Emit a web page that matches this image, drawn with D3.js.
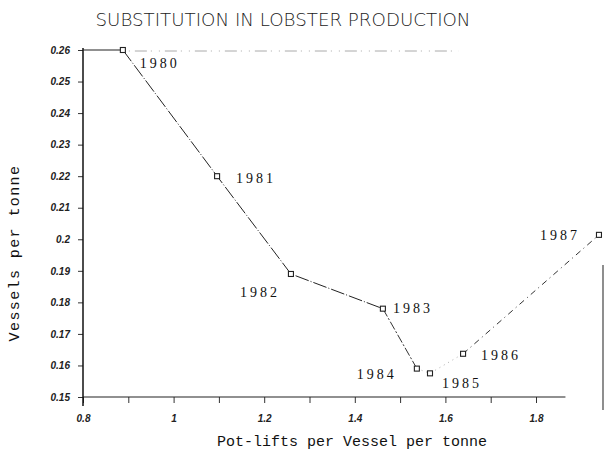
<!DOCTYPE html>
<html><head><meta charset="utf-8">
<script src="https://cdn.jsdelivr.net/npm/d3@7"></script>
<style>body{margin:0;background:#fff}svg{display:block}</style>
</head><body>
<script>
const years = ["1980","1981","1982","1983","1984","1985","1986","1987"];
const potLifts = [0.888, 1.096, 1.259, 1.462, 1.537, 1.566, 1.639, 1.939];
const vessels = [0.260, 0.220, 0.189, 0.178, 0.159, 0.1575, 0.1637, 0.2014];
const xTicks = [0.8,0.9,1.0,1.1,1.2,1.3,1.4,1.5,1.6,1.7,1.8];
const xTickLabels = ["0.8","","1","","1.2","","1.4","","1.6","","1.8"];
const yTicks = [0.15,0.16,0.17,0.18,0.19,0.2,0.21,0.22,0.23,0.24,0.25,0.26];
const yTickLabels = ["0.15","0.16","0.17","0.18","0.19","0.2","0.21","0.22","0.23","0.24","0.25","0.26"];
// label offsets [dx, dy, anchor]
const labelPos = [[17,18,"start"],[19,7,"start"],[-11,23,"end"],[10,4,"start"],[-20,10,"end"],[12,15,"start"],[18,6,"start"],[-19,5,"end"]];

const W=605,H=466;
const svg=d3.select("body").append("svg").attr("width",W).attr("height",H);
const x=d3.scaleLinear().domain([0.8,1.8]).range([83,536]);
const y=d3.scaleLinear().domain([0.15,0.26]).range([397,50]);

svg.append("text").attr("x",283).attr("y",26).attr("text-anchor","middle")
  .attr("font-family","DejaVu Sans").attr("font-size",18).attr("font-weight",200)
  .attr("fill","#222").attr("textLength",375).attr("lengthAdjust","spacingAndGlyphs")
  .text("SUBSTITUTION IN LOBSTER PRODUCTION");

// x axis
const xa=svg.append("g").attr("transform",`translate(0,${y(0.15)})`)
  .call(d3.axisBottom(x).tickValues(xTicks).tickSize(6).tickSizeOuter(0)
    .tickFormat((d,i)=>xTickLabels[i]));
xa.select(".domain").remove();
xa.append("line").attr("x1",x(0.8)).attr("x2",x(1.865)).attr("stroke","#222").attr("stroke-width",1.2);
xa.selectAll(".tick line").attr("stroke","#333");
xa.selectAll(".tick text").attr("y",18).attr("font-family","Liberation Sans").attr("font-style","italic")
  .attr("font-weight","bold").attr("font-size",10).attr("fill","#222");

// y axis
const ya=svg.append("g").attr("transform",`translate(${x(0.8)},0)`)
  .call(d3.axisLeft(y).tickValues(yTicks).tickSize(5).tickSizeOuter(0)
    .tickFormat((d,i)=>yTickLabels[i]));
ya.select(".domain").remove();
ya.append("line").attr("y1",y(0.26)-2).attr("y2",y(0.15)+9).attr("stroke","#111").attr("stroke-width",1.5);
ya.selectAll(".tick line").attr("stroke","#333");
ya.selectAll(".tick text").attr("x",-13).attr("font-family","Liberation Sans").attr("font-style","italic")
  .attr("font-weight","bold").attr("font-size",10).attr("fill","#222");

// top line at 0.26
svg.append("line").attr("x1",x(0.8)).attr("x2",x(potLifts[0])).attr("y1",y(0.26)).attr("y2",y(0.26))
  .attr("stroke","#222").attr("stroke-width",1.2);
svg.append("line").attr("x1",x(potLifts[0])+6).attr("x2",x(1.63)).attr("y1",y(0.26)+1).attr("y2",y(0.26)+1)
  .attr("stroke","#aaa").attr("stroke-width",1).attr("stroke-dasharray","1,5,12,4,1,7");
// right border fragment
svg.append("line").attr("x1",603).attr("x2",603).attr("y1",265).attr("y2",410)
  .attr("stroke","#444").attr("stroke-width",1.2);

const pts=years.map((yr,i)=>({yr,x:potLifts[i],y:vessels[i]}));
const line=d3.line().x(d=>x(d.x)).y(d=>y(d.y));
svg.append("path").datum(pts.slice(0,4)).attr("d",line).attr("fill","none")
  .attr("stroke","#222").attr("stroke-width",1).attr("stroke-dasharray","14,2,1,2");
svg.append("path").datum(pts.slice(3,5)).attr("d",line).attr("fill","none")
  .attr("stroke","#333").attr("stroke-width",1).attr("stroke-dasharray","9,2,2,2");
svg.append("path").datum(pts.slice(4,7)).attr("d",line).attr("fill","none")
  .attr("stroke","#999").attr("stroke-width",0.8).attr("stroke-dasharray","1,4");
svg.append("path").datum(pts.slice(6,8)).attr("d",line).attr("fill","none")
  .attr("stroke","#333").attr("stroke-width",1).attr("stroke-dasharray","6,4,1,4");

svg.selectAll("rect.m").data(pts).enter().append("rect").attr("class","m")
  .attr("x",d=>x(d.x)-2.5).attr("y",d=>y(d.y)-2.5).attr("width",5).attr("height",5)
  .attr("fill","#fff").attr("stroke","#222").attr("stroke-width",1.1);

svg.selectAll("text.yr").data(pts).enter().append("text").attr("class","yr")
  .attr("x",(d,i)=>x(d.x)+labelPos[i][0]).attr("y",(d,i)=>y(d.y)+labelPos[i][1])
  .attr("text-anchor",(d,i)=>labelPos[i][2])
  .attr("font-family","Liberation Serif").attr("font-size",14).attr("letter-spacing",3)
  .attr("fill","#111").text(d=>d.yr);

svg.append("text").attr("x",352).attr("y",446).attr("text-anchor","middle")
  .attr("font-family","Liberation Mono").attr("font-size",15).attr("fill","#111")
  .text("Pot-lifts per Vessel per tonne");
svg.append("text").attr("transform","translate(19,253) rotate(-90)").attr("text-anchor","middle")
  .attr("font-family","Liberation Mono").attr("font-size",15).attr("letter-spacing",1.4).attr("fill","#111")
  .text("Vessels per tonne");
</script>
</body></html>
